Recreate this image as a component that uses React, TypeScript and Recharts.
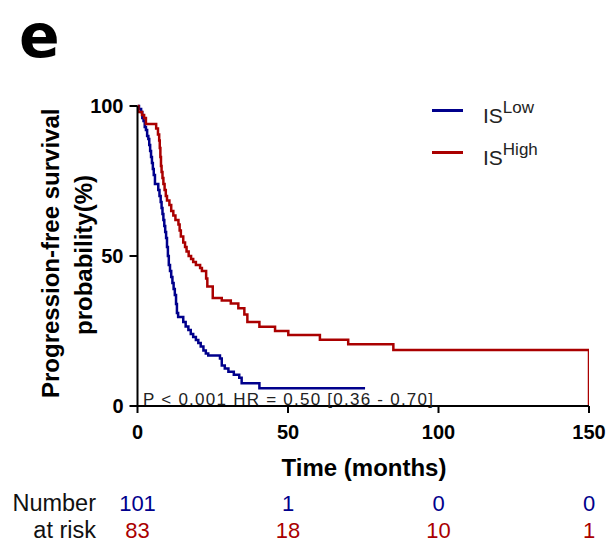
import { Legend, Line, LineChart, XAxis, YAxis } from "recharts";

// Kaplan-Meier steps (months, % progression-free)
const LOW_T = [0, 0.5, 1.2, 1.6, 2.0, 2.4, 2.8, 3.2, 3.6, 3.9, 4.2, 4.5, 4.8, 5.1, 5.4, 5.8, 6.9, 7.3, 7.7, 8.0, 8.3, 8.6, 8.9, 9.2, 9.5, 9.8, 10.1, 10.4, 10.8, 11.2, 11.6, 12.0, 12.4, 12.8, 13.1, 13.5, 15.2, 16.0, 16.9, 17.7, 18.5, 19.4, 20.2, 21.0, 21.9, 22.7, 23.5, 27.4, 28.0, 29.0, 30.2, 32.0, 33.8, 34.6, 40.5, 75.6];
const LOW_S = [100, 99, 98, 96, 95, 93, 92, 90, 89, 87, 85, 83, 81, 79, 77, 74, 72, 70, 68, 66, 64, 62, 60, 58, 56, 53, 50, 47, 45, 43, 41, 39, 37, 34, 31, 29.7, 28, 26.5, 25.3, 24, 23, 22, 21, 19.8, 18.5, 17.5, 16.8, 15.8, 13.5, 12.5, 11.4, 10.4, 9.4, 7.6, 5.9, 5.9];

const HIGH_T = [0, 0.3, 1.5, 2.2, 2.8, 6.2, 6.8, 7.2, 7.4, 7.6, 7.8, 8.0, 8.3, 8.6, 9.0, 9.4, 9.8, 10.6, 11.2, 11.9, 12.6, 13.6, 14.0, 14.4, 15.2, 15.8, 16.3, 17.0, 17.8, 18.5, 19.4, 20.8, 21.4, 22.8, 23.2, 25.0, 28.0, 31.0, 33.5, 35.5, 36.5, 40.5, 45.7, 50.1, 60.6, 70.0, 85.0, 150];
const HIGH_S = [100, 98, 97, 96, 94, 92.5, 90.5, 88.5, 86, 83, 80, 78, 76, 74, 72, 70, 68.5, 67, 65, 63.5, 62, 60.5, 58.5, 56.5, 54.5, 53, 51.5, 50, 49, 48, 47, 46, 45, 42.5, 39.8, 36, 35.2, 34.2, 32.6, 30.5, 28, 26.4, 25, 23.7, 22.1, 20.6, 18.7, 0];

const X_TICKS = [0, 50, 100, 150];
const Y_TICKS = [0, 50, 100];

const RISK_T = [0, 50, 100, 150];
const RISK_LOW = [101, 1, 0, 0];
const RISK_HIGH = [83, 18, 10, 1];

const BLUE = "#00008c";
const RED = "#aa0000";
const FONT = "Arial, 'Liberation Sans', sans-serif";

const W = 616;
const H = 542;
const PLOT_LEFT = 137.5;
const PLOT_RIGHT = 589;
const X_MAX = 150;
const xPx = (t: number) => PLOT_LEFT + ((PLOT_RIGHT - PLOT_LEFT) * t) / X_MAX;

const toRows = (ts: number[], ss: number[]) => ts.map((t, i) => ({ t, s: ss[i] }));
const lowData = toRows(LOW_T, LOW_S);
const highData = toRows(HIGH_T, HIGH_S);

const LEGEND_ORDER = ["Low", "High"];

function KmLegend({ payload }: { payload?: { value: string; color: string }[] }) {
  const items = [...(payload ?? [])].sort(
    (a, b) => LEGEND_ORDER.indexOf(a.value) - LEGEND_ORDER.indexOf(b.value)
  );
  return (
    <div style={{ position: "relative", width: 150, height: 90, fontFamily: FONT }}>
      {items.map((p, i) => (
        <div key={p.value} style={{ position: "absolute", left: 0, top: i * 41.6, width: 150, height: 40 }}>
          <span style={{ position: "absolute", left: 2, top: 13.2, width: 31, height: 3, background: p.color }} />
          <span
            style={{
              position: "absolute",
              left: 53,
              top: 9.2,
              fontSize: 21,
              lineHeight: "21px",
              color: "#222",
              whiteSpace: "nowrap",
            }}
          >
            IS
            <span style={{ fontSize: 17, position: "relative", top: -10 }}>{p.value}</span>
          </span>
        </div>
      ))}
    </div>
  );
}

export default function App() {
  const tickStyle = { fontSize: 20, fontWeight: 700, fill: "#000", fontFamily: FONT };
  return (
    <div style={{ position: "absolute", left: 0, top: 0, width: W, height: H, background: "#fff" }}>
      <LineChart
        width={W}
        height={H}
        margin={{ top: 106, right: W - PLOT_RIGHT, bottom: 106, left: PLOT_LEFT - 60 }}
      >
        <XAxis
          type="number"
          dataKey="t"
          domain={[0, X_MAX]}
          ticks={X_TICKS}
          height={30}
          tickSize={7}
          tickMargin={12}
          tick={tickStyle}
          axisLine={{ stroke: "#000", strokeWidth: 2 }}
          tickLine={{ stroke: "#000", strokeWidth: 2 }}
          allowDataOverflow
        />
        <YAxis
          type="number"
          domain={[0, 100]}
          ticks={Y_TICKS}
          width={60}
          tickSize={8}
          tickMargin={6}
          tick={tickStyle}
          axisLine={{ stroke: "#000", strokeWidth: 2 }}
          tickLine={{ stroke: "#000", strokeWidth: 2 }}
        />
        <Line
          data={lowData}
          dataKey="s"
          name="Low"
          type="stepAfter"
          stroke={BLUE}
          strokeWidth={2.5}
          dot={false}
          activeDot={false}
          isAnimationActive={false}
        />
        <Line
          data={highData}
          dataKey="s"
          name="High"
          type="stepAfter"
          stroke={RED}
          strokeWidth={2.5}
          dot={false}
          activeDot={false}
          isAnimationActive={false}
        />
        <Legend
          layout="vertical"
          align="center"
          verticalAlign="middle"
          wrapperStyle={{ left: 430, top: 96, width: 150, height: 90 }}
          content={(props: any) => <KmLegend payload={props.payload} />}
        />
      </LineChart>

      <svg
        width={W}
        height={H}
        style={{ position: "absolute", left: 0, top: 0, pointerEvents: "none" }}
        fontFamily={FONT}
      >
        <text x={19} y={57} fontSize={60} fontWeight={700} fill="#000" fontFamily="'DejaVu Sans', sans-serif">
          e
        </text>

        <text
          transform="translate(58.5,253.3) rotate(-90)"
          textAnchor="middle"
          fontSize={24}
          fontWeight={700}
          fill="#000"
        >
          Progression-free survival
        </text>
        <text
          transform="translate(92,255) rotate(-90)"
          textAnchor="middle"
          fontSize={24}
          fontWeight={700}
          fill="#000"
        >
          probability(%)
        </text>

        <text x={364} y={475.5} textAnchor="middle" fontSize={24} fontWeight={700} fill="#000">
          Time (months)
        </text>

        <text x={143} y={405} fontSize={17} fill="#222" textLength={290} lengthAdjust="spacing">
          P &lt; 0.001 HR = 0.50 [0.36 - 0.70]
        </text>

        <text x={96} y={511} textAnchor="end" fontSize={23.5} fill="#111">Number</text>
        <text x={96} y={538} textAnchor="end" fontSize={23.5} fill="#111">at risk</text>
        {RISK_T.map((t, i) => (
          <text key={`l${t}`} x={xPx(t)} y={511} textAnchor="middle" fontSize={22} fill={BLUE}>
            {RISK_LOW[i]}
          </text>
        ))}
        {RISK_T.map((t, i) => (
          <text key={`h${t}`} x={xPx(t)} y={538} textAnchor="middle" fontSize={22} fill={RED}>
            {RISK_HIGH[i]}
          </text>
        ))}
      </svg>
    </div>
  );
}
